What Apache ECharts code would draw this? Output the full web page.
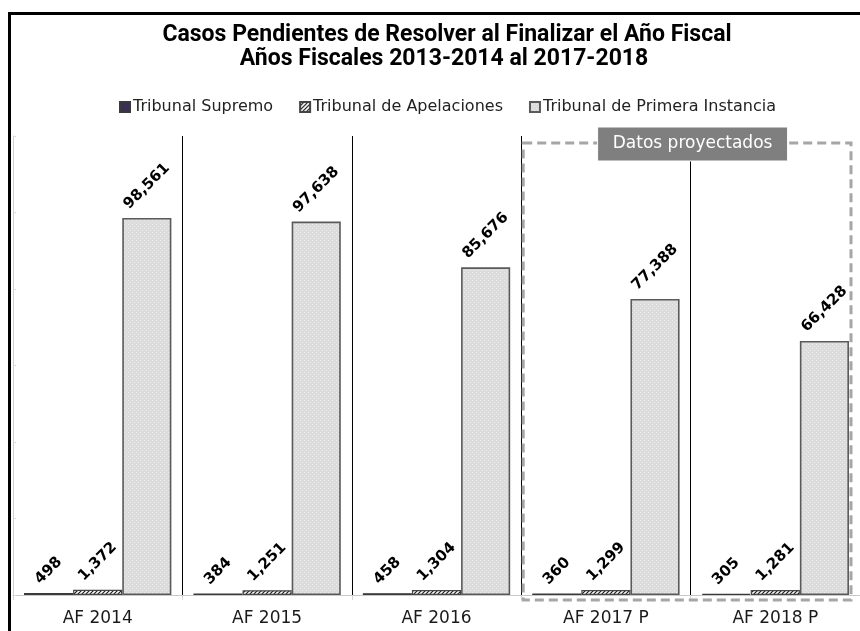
<!DOCTYPE html>
<html>
<head>
<meta charset="utf-8">
<script src="https://cdn.jsdelivr.net/npm/echarts@6/dist/echarts.min.js"></script>
<style>
  html, body { margin: 0; padding: 0; background: #fff; }
  #chart { width: 860px; height: 631px; }
</style>
</head>
<body>
<div id="chart"></div>
<script>
// Fiscal years shown on the category axis
const categories = ['AF 2014', 'AF 2015', 'AF 2016', 'AF 2017 P', 'AF 2018 P'];
// Pending cases at the end of each fiscal year, by court level
const supremo = [498, 384, 458, 360, 305];
const apelaciones = [1372, 1251, 1304, 1299, 1281];
const primeraInstancia = [98561, 97638, 85676, 77388, 66428];
const seriesNames = ['Tribunal Supremo', 'Tribunal de Apelaciones', 'Tribunal de Primera Instancia'];
// Index of the first projected year
const firstProjected = 3;

const chartEl = document.getElementById('chart');
const chart = echarts.init(chartEl, null, { renderer: 'canvas' });

const LABEL_FONT_FAMILY = 'DejaVu Sans';
const LABEL_FONT_SIZE = 15;
const TEXT_FAMILY = 'DejaVu Sans';

// Diagonal hatch used for the appellate court bars
function makeHatch() {
  const c = document.createElement('canvas');
  c.width = 4; c.height = 4;
  const g = c.getContext('2d');
  g.fillStyle = '#ffffff';
  g.fillRect(0, 0, 4, 4);
  g.strokeStyle = '#1a1a1a';
  g.lineWidth = 1.2;
  g.beginPath();
  g.moveTo(-1, 5); g.lineTo(5, -1);
  g.moveTo(-1, 1); g.lineTo(1, -1);
  g.moveTo(3, 5); g.lineTo(5, 3);
  g.stroke();
  return c;
}
// Fine dotted light grey fill for the first-instance bars
function makeDots() {
  const c = document.createElement('canvas');
  c.width = 4; c.height = 4;
  const g = c.getContext('2d');
  g.fillStyle = '#dcdcdc';
  g.fillRect(0, 0, 4, 4);
  g.fillStyle = '#ececec';
  g.fillRect(0, 0, 1, 1);
  g.fillRect(2, 2, 1, 1);
  return c;
}

const hatchPattern = { image: makeHatch(), repeat: 'repeat' };
const dotPattern = { image: makeDots(), repeat: 'repeat' };

// Measure label text so rotated labels sit just above each bar
const measureCtx = document.createElement('canvas').getContext('2d');
measureCtx.font = 'bold ' + LABEL_FONT_SIZE + 'px "' + LABEL_FONT_FAMILY + '"';
function fmt(v) { return v.toLocaleString('en-US'); }
function labelled(values) {
  return values.map(function (v) {
    const w = measureCtx.measureText(fmt(v)).width;
    const d = 6 + (w / 2 + LABEL_FONT_SIZE / 2) * Math.SQRT1_2;
    return { value: v, label: { distance: d } };
  });
}

const barLabel = {
  show: true,
  position: 'top',
  rotate: 45,
  align: 'center',
  verticalAlign: 'middle',
  fontFamily: LABEL_FONT_FAMILY,
  fontSize: LABEL_FONT_SIZE,
  fontWeight: 'bold',
  color: '#000',
  formatter: function (p) { return fmt(p.value); }
};

const option = {
  animation: false,
  backgroundColor: '#fff',
  textStyle: { fontFamily: TEXT_FAMILY },
  legend: {
    left: 114,
    top: 94,
    itemWidth: 10,
    itemHeight: 10,
    itemGap: 26,
    icon: 'rect',
    textStyle: { fontFamily: TEXT_FAMILY, fontSize: 16, color: '#222', padding: [0, 0, 0, -2] },
    data: seriesNames
  },
  grid: { left: 13, right: -4, top: 136, bottom: 36, containLabel: false },
  xAxis: {
    type: 'category',
    data: categories,
    axisLine: { show: true, lineStyle: { color: '#c8c8c8', width: 1 } },
    axisTick: { show: true, length: 5, lineStyle: { color: '#d4d4d4' } },
    axisLabel: { fontFamily: TEXT_FAMILY, fontSize: 17, color: '#1a1a1a', margin: 15 },
    splitLine: { show: true, interval: 0, lineStyle: { color: '#000', width: 1 } }
  },
  yAxis: {
    type: 'value',
    min: 0,
    max: 120000,
    interval: 20000,
    axisLabel: { show: false },
    axisLine: { show: true, lineStyle: { color: '#d0d0d0' } },
    axisTick: { show: true, inside: true, length: 3, lineStyle: { color: '#d8d8d8' } },
    splitLine: { show: false }
  },
  series: [
    {
      name: seriesNames[0],
      type: 'bar',
      data: labelled(supremo),
      barGap: '0%',
      barCategoryGap: '13%',
      itemStyle: { color: '#3b2f55', borderColor: '#3a3a3a', borderWidth: 1.2 },
      label: barLabel
    },
    {
      name: seriesNames[1],
      type: 'bar',
      data: labelled(apelaciones),
      barGap: '0%',
      barCategoryGap: '13%',
      itemStyle: { color: hatchPattern, borderColor: '#444', borderWidth: 1.2 },
      label: barLabel
    },
    {
      name: seriesNames[2],
      type: 'bar',
      data: labelled(primeraInstancia),
      barGap: '0%',
      barCategoryGap: '13%',
      itemStyle: { color: dotPattern, borderColor: '#5a5a5a', borderWidth: 1.6 },
      label: barLabel
    }
  ]
};

chart.setOption(option);

// Frame, titles and the projected-years box
const grid = chart.getModel().getComponent('grid').coordinateSystem.getRect();
const band = grid.width / categories.length;
const projLeft = grid.x + band * firstProjected + 2;
const projRight = grid.x + grid.width - 9;
const projTop = grid.y + 7;
const projBottom = grid.y + grid.height + 5;
const tagCenter = grid.x + band * (firstProjected + 1) + 2;

chart.setOption({
  graphic: [
    {
      type: 'rect', silent: true, z: 100,
      shape: { x: 9.5, y: 13.5, width: 900, height: 700 },
      style: { fill: 'none', stroke: '#000', lineWidth: 3 }
    },
    {
      type: 'text', silent: true, x: 447, y: 35,
      style: {
        text: 'Casos Pendientes de Resolver al Finalizar el Año Fiscal',
        font: 'bold 23px "Roboto"', fill: '#000',
        align: 'center', verticalAlign: 'middle'
      }
    },
    {
      type: 'text', silent: true, x: 444, y: 59,
      style: {
        text: 'Años Fiscales 2013-2014 al 2017-2018',
        font: 'bold 23px "Roboto"', fill: '#000',
        align: 'center', verticalAlign: 'middle'
      }
    },
    {
      type: 'rect', silent: true, z: 50,
      shape: { x: projLeft, y: projTop, width: projRight - projLeft, height: projBottom - projTop },
      style: { fill: 'none', stroke: '#a6a6a6', lineWidth: 3, lineDash: [9, 5] }
    },
    {
      type: 'rect', silent: true, z: 60,
      shape: { x: tagCenter - 95, y: projTop - 16, width: 190, height: 34 },
      style: { fill: '#7f7f7f', stroke: '#ffffff', lineWidth: 1 }
    },
    {
      type: 'text', silent: true, z: 61, x: tagCenter, y: projTop + 1,
      style: {
        text: 'Datos proyectados',
        font: '17px "DejaVu Sans"', fill: '#ffffff',
        align: 'center', verticalAlign: 'middle'
      }
    }
  ]
});
</script>
</body>
</html>
